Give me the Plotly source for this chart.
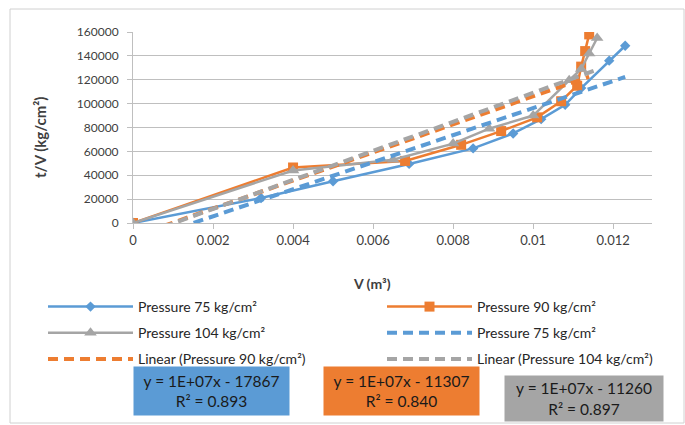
import numpy as np
import plotly.graph_objects as go

# ---- data ----
x_tick_vals = [0, 0.002, 0.004, 0.006, 0.008, 0.01, 0.012]
x_tick_text = ["0", "0.002", "0.004", "0.006", "0.008", "0.01", "0.012"]
y_tick_vals = [0, 20000, 40000, 60000, 80000, 100000, 120000, 140000, 160000]

v_75 = [0, 0.0032, 0.0050, 0.0069, 0.0085, 0.0095, 0.0102, 0.0108, 0.0112, 0.0119, 0.0123]
tv_75 = [0, 21000, 35000, 49500, 62500, 75000, 87000, 99000, 113000, 136000, 148500]

v_90 = [0, 0.0040, 0.0068, 0.0082, 0.0092, 0.0101, 0.0107, 0.0111, 0.0112, 0.0113, 0.0114]
tv_90 = [0, 46500, 52000, 65500, 77000, 88500, 102000, 115000, 131000, 144000, 158000]

v_104 = [0, 0.0040, 0.0065, 0.0080, 0.0089, 0.0100, 0.0109, 0.0112, 0.0114, 0.0116]
tv_104 = [0, 44000, 53000, 66500, 79000, 90000, 119500, 129000, 142000, 155000]

series_names = ["Pressure 75 kg/cm²", "Pressure 90 kg/cm²", "Pressure 104 kg/cm²"]
trend_names = ["Pressure 75 kg/cm²", "Linear (Pressure 90 kg/cm²)", "Linear (Pressure 104 kg/cm²)"]
equations = ["y = 1E+07x - 17867<br>R² = 0.893",
             "y = 1E+07x - 11307<br>R² = 0.840",
             "y = 1E+07x - 11260<br>R² = 0.897"]

colors = ["#5B9BD5", "#ED7D31", "#A5A5A5"]
symbols = ["diamond", "square", "triangle-up"]
msizes = [8, 10, 11]
series_legend = ["legend", "legend2", "legend"]
trend_legend = ["legend2", "legend", "legend2"]

xs = [v_75, v_90, v_104]
ys = [tv_75, tv_90, tv_104]

FONT = "Lato"
W, H = 685, 425
L, R, T, B = 133, 33, 32, 202
PW, PH = W - L - R, H - T - B

fig = go.Figure()

for i, (xv, yv, name, c, s, ms, lg) in enumerate(zip(xs, ys, series_names, colors, symbols, msizes, series_legend)):
    fig.add_trace(go.Scatter(x=xv, y=yv, name=name, mode="lines+markers",
                             line=dict(color=c, width=2.5), legend=lg, legendgroup=f"s{i}",
                             marker=dict(color=c, symbol=s, size=ms)))

for i, (xv, yv, name, c, lg) in enumerate(zip(xs, ys, trend_names, colors, trend_legend)):
    m, b = np.polyfit(xv, yv, 1)
    tx = np.array([0, max(xv)])
    fig.add_trace(go.Scatter(x=tx, y=m * tx + b, name=name, mode="lines", legend=lg,
                             legendgroup=f"t{i}",
                             line=dict(color=c, width=4, dash="10px,6px")))

def px_x(px):
    return (px - L) / PW

def px_y(py):
    return (H - B - py) / PH

# equation boxes (centre x, centre y, width, height in px)
box_x = [211, 401, 584]
box_y = [391, 391, 398]
box_w = [155, 155, 158]
box_h = [48, 48, 45]
for txt, c, bx, by, bw, bh in zip(equations, colors, box_x, box_y, box_w, box_h):
    fig.add_annotation(xref="paper", yref="paper", x=px_x(bx), y=px_y(by),
                       text=txt, showarrow=False, font=dict(size=15.5, color="#1a1a1a", family=FONT),
                       bgcolor=c, width=bw, height=bh, align="center", borderpad=0,
                       xanchor="center", yanchor="middle")

# axis titles
fig.add_annotation(xref="paper", yref="paper", x=px_x(372), y=px_y(283),
                   text="<b>V (m³)</b>", showarrow=False, xanchor="center", yanchor="middle",
                   font=dict(size=14, color="#404040", family=FONT))
fig.add_annotation(xref="paper", yref="paper", x=px_x(40), y=px_y(138),
                   text="<b>t/V (kg/cm²)</b>", showarrow=False, textangle=-90,
                   xanchor="center", yanchor="middle",
                   font=dict(size=15, color="#404040", family=FONT))

# outer chart border
fig.add_shape(type="rect", xref="paper", yref="paper",
              x0=px_x(10), x1=px_x(684), y0=px_y(423), y1=px_y(9),
              line=dict(color="#D0D0D0", width=1))

leg_common = dict(orientation="v", xanchor="left", yanchor="top", itemwidth=85,
                  xref="container", yref="container",
                  font=dict(size=14, color="#262626", family=FONT),
                  tracegroupgap=5, itemclick=False, bgcolor="rgba(0,0,0,0)")

fig.update_layout(
    width=W, height=H,
    margin=dict(l=L, r=R, t=T, b=B, pad=0, autoexpand=False),
    paper_bgcolor="white", plot_bgcolor="white",
    font=dict(family=FONT, color="#404040"),
    showlegend=True,
    legend=dict(x=43 / W, y=1 - 291 / H, **leg_common),
    legend2=dict(x=382 / W, y=1 - 291 / H, **leg_common),
    xaxis=dict(range=[0, 0.01297], tickvals=x_tick_vals, ticktext=x_tick_text,
               showgrid=False, zeroline=False, showline=True, linecolor="#BFBFBF", linewidth=1,
               ticks="outside", ticklen=5, tickcolor="#BFBFBF", automargin=False,
               tickfont=dict(size=13, color="#404040")),
    yaxis=dict(range=[0, 160000], tickvals=y_tick_vals, tickformat="d",
               showgrid=True, gridcolor="#BFBFBF", gridwidth=1, zeroline=False,
               showline=True, linecolor="#BFBFBF", linewidth=1,
               ticks="outside", ticklen=5, tickcolor="#BFBFBF", automargin=False,
               ticklabelstandoff=6,
               tickfont=dict(size=12, color="#404040")),
)

fig.write_html("out.html", config={"displayModeBar": False},
               post_script="document.body.style.margin='0';")
